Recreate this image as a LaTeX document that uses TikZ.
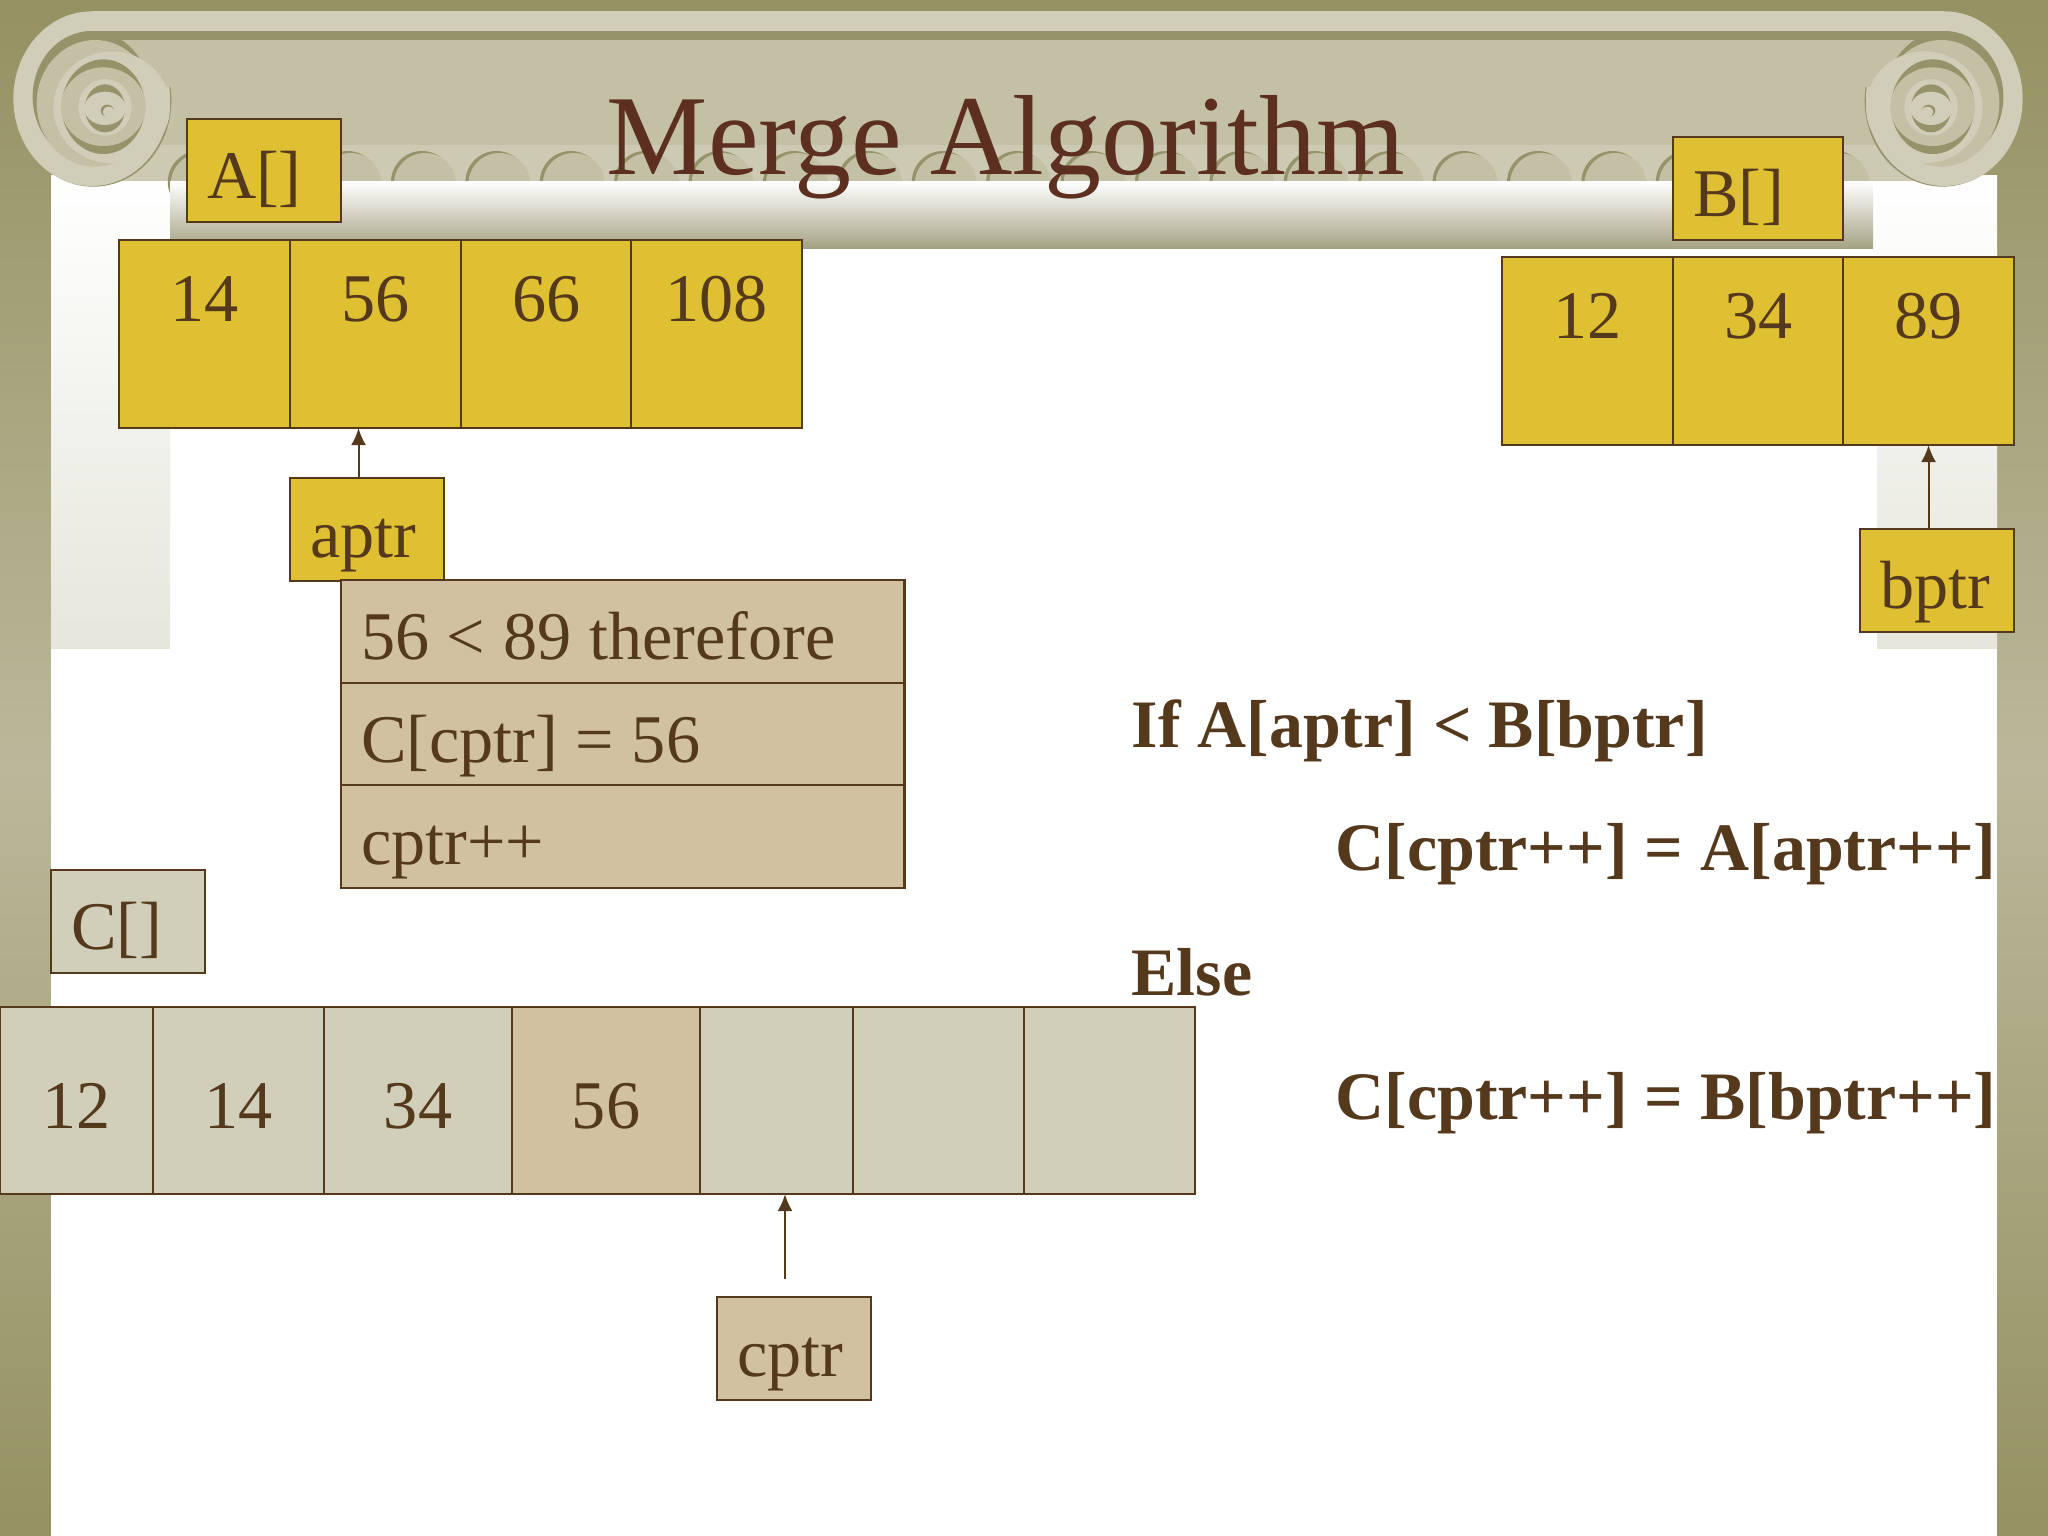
\documentclass[tikz,border=0pt]{standalone}
\usepackage{fontspec}
\setmainfont{Liberation Serif}
\usepackage{tikz}
\usetikzlibrary{arrows.meta, positioning}

\definecolor{oliveDark}{HTML}{959162}
\definecolor{oliveMid}{HTML}{BAB89A}
\definecolor{capLight}{HTML}{D0CDB8}
\definecolor{capBody}{HTML}{C4C0A6}
\definecolor{capRow}{HTML}{CDCAB4}
\definecolor{capShade}{HTML}{96936A}
\definecolor{columnFade}{HTML}{E6E6DC}
\definecolor{barFade}{HTML}{A5A384}
\definecolor{inkBrown}{HTML}{54391C}
\definecolor{titleBrown}{HTML}{5C2F20}
\definecolor{cellYellow}{HTML}{E0C033}
\definecolor{cellTan}{HTML}{D1C1A1}
\definecolor{cellGrey}{HTML}{D1CFBA}

\newcommand{\tightwords}{\spaceskip=0.26em\relax}
\newcommand{\voluteouter}{
    \fill[capShade] (250, 242) ellipse [x radius=234, y radius=258];
    \fill[capLight] (245, 236) ellipse [x radius=235, y radius=262];
}
\newcommand{\voluteinner}{
    \foreach \cx/\cy/\rx/\ry/\col in {
        245/230/177/197/capShade, 255/250/175/190/capBody,
        305/262/175/168/capLight, 280/260/125/142/capShade,
        280/260/127/118/capBody, 285/262/80/85/capLight,
        285/265/60/72/capShade, 285/265/62/50/capLight,
        292/272/20/18/capShade, 296/276/18/16/capLight}
        \fill[\col] (\cx, \cy) ellipse [x radius=\rx, y radius=\ry];
}

\begin{document}
\begin{tikzpicture}[
            x=0.01cm, y=-0.01cm,
            every node/.style={text=inkBrown, font=\fontsize{19.4}{23}\selectfont},
            cell/.style={draw=inkBrown, line width=0.025cm, anchor=north west, inner sep=0pt, outer sep=0pt, minimum width=1.71cm, align=center},
            topcell/.style={cell, fill=cellYellow, text height=0.815cm, text depth=1.065cm},
            lowcell/.style={cell, fill=cellGrey, text height=1.215cm, text depth=0.655cm},
            tag/.style={draw=inkBrown, line width=0.025cm, anchor=north west, inner xsep=0.2cm, inner ysep=0pt, outer sep=0pt, text width=1.14cm, text height=0.79cm, text depth=0.24cm},
            rowbox/.style={tag, fill=cellTan, text width=5.23cm},
            rule/.style={anchor=base west, inner sep=0pt, font=\fontsize{19.3}{23}\selectfont\bfseries},
            ptr/.style={-{Latex[length=0.17cm, width=0.15cm]}, draw=inkBrown, line width=0.02cm}
        ]
        \useasboundingbox (0, 0) rectangle (2048, 1536);

        % Backdrop (columns and capital)
        \shade[top color=oliveDark, bottom color=oliveDark, middle color=oliveMid] (0, 0) rectangle (2048, 1536);
        \fill[white] (51, 175) rectangle (1997, 1536);
        \shade[top color=white, bottom color=columnFade] (51, 175) rectangle (170, 648);
        \shade[top color=white, bottom color=columnFade] (1877, 175) rectangle (1997, 648);
        \fill[capBody] (92, 87) rectangle (1944, 145);
        \fill[capRow] (92, 145) rectangle (1944, 181);
        \foreach \k in {-3,...,19} {
            \fill[capShade] ({422+74.4*\k}, 182) ellipse [x radius=31, y radius=31];
            \fill[capBody] ({425+74.4*\k}, 184) ellipse [x radius=31, y radius=31];
        }
        \shade[top color=white, bottom color=barFade] (170, 181) rectangle (1873, 248);
        \begin{scope}[shift={(10, 20)}, scale=1/3]
            \voluteouter
        \end{scope}
        \begin{scope}[shift={(2026, 20)}, xscale=-1/3, yscale=1/3]
            \voluteouter
        \end{scope}
        \fill[capLight] (92, 11) rectangle (1944, 31);
        \fill[capShade] (92, 31) rectangle (1944, 40);
        \fill[capBody] (92, 40) rectangle (1944, 87);
        \begin{scope}[shift={(10, 20)}, scale=1/3]
            \voluteinner
        \end{scope}
        \begin{scope}[shift={(2026, 20)}, xscale=-1/3, yscale=1/3]
            \voluteinner
        \end{scope}

        % Title
        \node[anchor=base, text=titleBrown, font=\fontsize{32.4}{38}\selectfont] (title) at (1006, 174) {Merge Algorithm};

        % Array A
        \node[tag, fill=cellYellow] (atag) at (187, 119) {A[]};
        \node[topcell] (a1) at (119, 240) {14};
        \node[topcell] (a2) at (290, 240) {56};
        \node[topcell] (a3) at (461, 240) {66};
        \node[topcell] (a4) at (631, 240) {108};
        \node[tag, fill=cellYellow] (aptr) at (290, 478) {aptr};

        % Array B
        \node[tag, fill=cellYellow, text width=1.3cm] (btag) at (1673, 137) {B[]};
        \node[topcell] (b1) at (1502, 257) {12};
        \node[topcell] (b2) at (1673, 257) {34};
        \node[topcell] (b3) at (1843, 257) {89};
        \node[tag, fill=cellYellow] (bptr) at (1860, 529) {bptr};

        % Comparison
        \node[rowbox] (step1) at (341, 580) {\tightwords 56 < 89 therefore};
        \node[rowbox] (step2) at (341, 683) {\tightwords C[cptr] = 56};
        \node[rowbox] (step3) at (341, 785) {cptr++};

        % Array C
        \node[tag, fill=cellGrey] (ctag) at (51, 870) {C[]};
        \node[lowcell, minimum width=1.53cm] (c1) at (0, 1007) {12};
        \node[lowcell] (c2) at (153, 1007) {14};
        \node[lowcell, minimum width=1.88cm] (c3) at (324, 1007) {34};
        \node[lowcell, minimum width=1.88cm, fill=cellTan] (c4) at (512, 1007) {56};
        \node[lowcell, minimum width=1.53cm] (c5) at (700, 1007) {};
        \node[lowcell] (c6) at (853, 1007) {};
        \node[lowcell] (c7) at (1024, 1007) {};
        \node[tag, fill=cellTan] (cptr) at (717, 1297) {cptr};
        \coordinate (ctail) at (785, 1279);

        % Rule text
        \node[rule] (rule1) at (1131, 747) {If A[aptr] < B[bptr]};
        \node[rule] (rule2) at (1335, 870) {C[cptr++] = A[aptr++]};
        \node[rule] (rule3) at (1131, 995) {Else};
        \node[rule] (rule4) at (1335, 1119) {C[cptr++] = B[bptr++]};

        % Pointers
        \draw[ptr] ([xshift=-0.17cm]a2.south |- aptr.north) -- ([xshift=-0.17cm]a2.south);
        \draw[ptr] (b3.south |- bptr.north) -- (b3.south);
        \draw[ptr] (ctail) -- (ctail |- c5.south);

\end{tikzpicture}
\end{document}
